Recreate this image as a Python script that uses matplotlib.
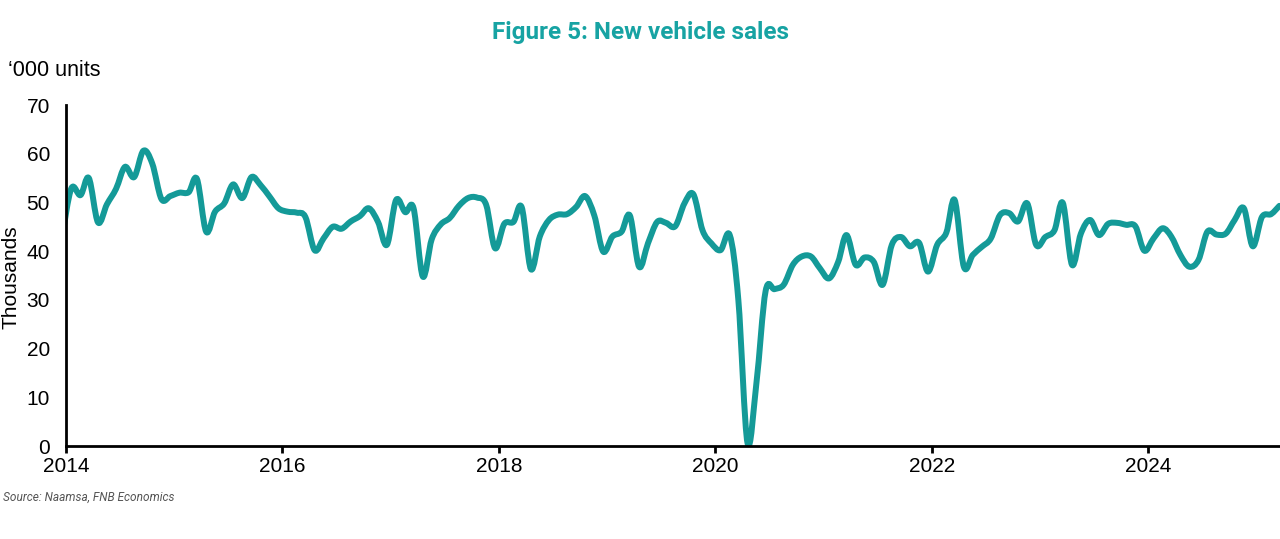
import pandas as pd
import numpy as np
import matplotlib
matplotlib.use("Agg")
import matplotlib.pyplot as plt
import matplotlib.dates as mdates
from matplotlib.path import Path
from matplotlib.patches import PathPatch

# monthly new vehicle sales, '000 units, Dec 2013 .. Mar 2025
dates = pd.date_range("2013-12-01", "2025-03-01", freq="MS") + pd.Timedelta(days=18)
sales = [
    43.0,
    52.9, 51.5, 55.0, 45.9, 49.6, 52.8, 57.3, 55.2, 60.6, 58.0, 50.7, 51.3,  # 2014
    52.0, 52.1, 54.8, 44.0, 48.1, 49.8, 53.7, 50.9, 55.2, 53.6, 51.2, 48.8,  # 2015
    48.1, 47.9, 47.0, 40.2, 42.6, 45.0, 44.6, 46.1, 47.2, 48.8, 46.0, 41.3,  # 2016
    50.5, 48.0, 48.8, 34.8, 42.4, 45.5, 46.8, 49.3, 50.9, 51.0, 49.5, 40.6,  # 2017
    45.6, 46.0, 49.0, 36.3, 43.0, 46.4, 47.5, 47.6, 49.1, 51.3, 47.3, 39.9,  # 2018
    43.0, 44.0, 47.3, 36.8, 41.6, 46.0, 45.8, 45.1, 49.8, 51.7, 44.3, 41.6,  # 2019
    40.2, 43.3, 30.0, 0.6, 12.9, 31.8, 32.2, 33.1, 37.2, 38.9, 38.9, 36.5,   # 2020
    34.4, 37.8, 43.3, 37.2, 38.7, 37.8, 33.1, 41.3, 42.9, 41.0, 41.7, 35.8,  # 2021
    41.3, 43.8, 50.5, 36.8, 39.2, 40.9, 42.6, 47.4, 47.8, 46.1, 49.8, 41.3,  # 2022
    42.9, 44.3, 49.9, 37.2, 43.6, 46.4, 43.3, 45.6, 45.8, 45.4, 45.1, 40.1,  # 2023
    42.6, 44.7, 43.0, 39.2, 36.8, 38.2, 44.0, 43.4, 43.6, 46.4, 48.8, 41.0,  # 2024
    47.0, 47.6, 49.3,                                                        # 2025
]
year_ticks = ["2014", "2016", "2018", "2020", "2022", "2024"]

teal = "#149a98"

fig = plt.figure(figsize=(12.8, 5.39), dpi=100)
ax = fig.add_axes([66 / 1280, 1 - 446 / 539, 1 - 66 / 1280, (446 - 105) / 539])

# smoothed line like Excel: cubic bezier through the monthly points
xs = mdates.date2num(dates.to_pydatetime())
ys = np.array(sales)
pts = np.column_stack([xs, ys])
verts = [pts[0]]
codes = [Path.MOVETO]
for i in range(len(pts) - 1):
    p0 = pts[i - 1] if i > 0 else pts[i]
    p1 = pts[i]
    p2 = pts[i + 1]
    p3 = pts[i + 2] if i + 2 < len(pts) else pts[i + 1]
    c1 = p1 + (p2 - p0) / 6
    c2 = p2 - (p3 - p1) / 6
    verts += [c1, c2, p2]
    codes += [Path.CURVE4] * 3
ax.add_patch(PathPatch(Path(verts, codes), fill=False, edgecolor=teal, lw=4.3,
                       capstyle="round", joinstyle="round"))

ax.set_xlim(mdates.date2num(pd.Timestamp("2014-01-01")), xs[-1] + 2)
ax.set_ylim(0, 70)
ax.set_yticks(range(0, 71, 10))
ax.set_xticks([mdates.date2num(pd.Timestamp(y + "-01-01")) for y in year_ticks])
ax.set_xticklabels(year_ticks)

for s in ["top", "right"]:
    ax.spines[s].set_visible(False)
for s in ["left", "bottom"]:
    ax.spines[s].set_linewidth(2)
    ax.spines[s].set_color("black")
ax.tick_params(axis="y", length=0, pad=11.5, labelsize=15)
ax.tick_params(axis="x", length=5, width=2, direction="out", pad=3, labelsize=15)
for lab in ax.get_xticklabels() + ax.get_yticklabels():
    lab.set_fontfamily("Liberation Sans")

fig.text(11 / 1280, 1 - 277 / 539, "Thousands", rotation=90, ha="center", va="center",
         fontsize=15, family="Liberation Sans")
fig.text(640 / 1280, 1 - 33 / 539, "Figure 5: New vehicle sales", ha="center", va="center",
         fontsize=17.5, fontweight="bold", color="#17a3a3", family="Roboto")
fig.text(8 / 1280, 1 - 70 / 539, "\u2018000 units", ha="left", va="center",
         fontsize=15.5, family="Liberation Sans")
fig.text(3 / 1280, 1 - 497 / 539, "Source: Naamsa, FNB Economics", ha="left", va="center",
         fontsize=8.6, style="italic", color="#555555", family="Roboto")

fig.savefig("out.png", dpi=100)
